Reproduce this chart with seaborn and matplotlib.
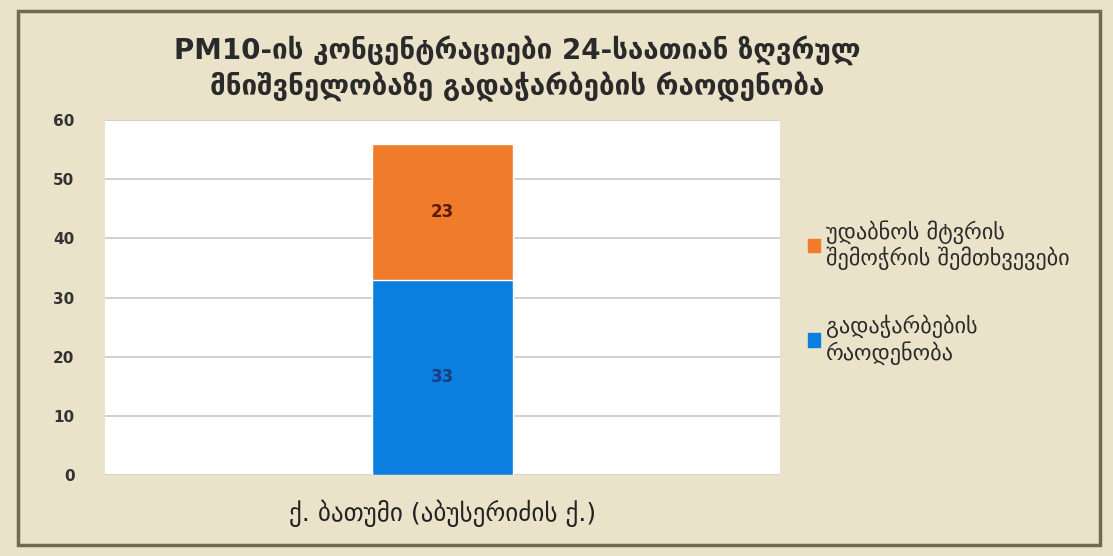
import matplotlib
matplotlib.use("Agg")
import matplotlib.pyplot as plt
from matplotlib.patches import Rectangle
import pandas as pd
import seaborn as sns

# Data
categories = ["ქ. ბათუმი (აბუსერიძის ქ.)"]
exceedances = [33]          # გადაჭარბების რაოდენობა
dust_events = [23]          # უდაბნოს მტვრის შემოჭრის შემთხვევები
series_names = ["გადაჭარბების\nრაოდენობა", "უდაბნოს მტვრის\nშემოჭრის შემთხვევები"]
title_text = "PM10-ის კონცენტრაციები 24-საათიან ზღვრულ\nმნიშვნელობაზე გადაჭარბების რაოდენობა"
y_ticks = [0, 10, 20, 30, 40, 50, 60]

blue = "#0B7FE0"
orange = "#EF7B2B"
bg = "#EAE3CA"

sns.set_theme(style="white")
plt.rcParams["font.family"] = ["DejaVu Sans"]

fig = plt.figure(figsize=(11.13, 5.56), dpi=100, facecolor=bg)
ax = fig.add_axes([0.0943, 0.1457, 0.6065, 0.6383])
ax.set_facecolor("white")

df = pd.DataFrame({
    "category": categories,
    "blue": exceedances,
    "orange": dust_events,
})
df["total"] = df["blue"] + df["orange"]

sns.barplot(data=df, x="category", y="total", color=orange, width=0.209,
            saturation=1, ax=ax, zorder=3)
sns.barplot(data=df, x="category", y="blue", color=blue, width=0.209,
            saturation=1, ax=ax, zorder=4)

# Segment labels at the middle of each stacked piece
for i, row in df.iterrows():
    ax.text(i, row["blue"] / 2, f"{row['blue']}", ha="center", va="center",
            fontsize=12, fontweight="bold", color="#1B3E80", zorder=5)
    ax.text(i, row["blue"] + row["orange"] / 2, f"{row['orange']}", ha="center",
            va="center", fontsize=12, fontweight="bold", color="#5A1A05", zorder=5)

ax.set_xlim(-0.5, 0.5)
ax.set_ylim(0, 60)
ax.set_yticks(y_ticks)
ax.set_yticklabels([str(t) for t in y_ticks], fontsize=11, fontweight="bold",
                   color="#333333")
ax.tick_params(axis="y", pad=22, length=0)
ax.tick_params(axis="x", pad=18, length=0)
ax.set_xticks([0])
ax.set_xticklabels(categories, fontsize=18, color="#222222")
ax.set_xlabel("")
ax.set_ylabel("")
ax.yaxis.grid(True, color="#C8C8C8", linewidth=1.2, zorder=0)
ax.set_axisbelow(True)
for s in ax.spines.values():
    s.set_visible(False)

# Title
fig.text(0.465, 0.877, title_text, ha="center", va="center", fontsize=20,
         fontweight="bold", color="#2A2A2A", linespacing=1.3)

# Legend
handles = [Rectangle((0, 0), 1, 1, color=orange), Rectangle((0, 0), 1, 1, color=blue)]
leg = fig.legend(handles, [series_names[1], series_names[0]],
                 loc="upper left", bbox_to_anchor=(0.708, 0.64), frameon=False,
                 fontsize=16, handlelength=0.55, handleheight=0.55,
                 handletextpad=0.25, labelspacing=2.0)
for t in leg.get_texts():
    t.set_color("#2A2A2A")
    t.set_linespacing(1.15)

# Outer frame of the chart card
fig.add_artist(Rectangle((0.016, 0.02), 0.972, 0.96, transform=fig.transFigure,
                         fill=False, edgecolor="#6E6A55", linewidth=2.5))

fig.savefig("out.png", dpi=100, facecolor=bg)
